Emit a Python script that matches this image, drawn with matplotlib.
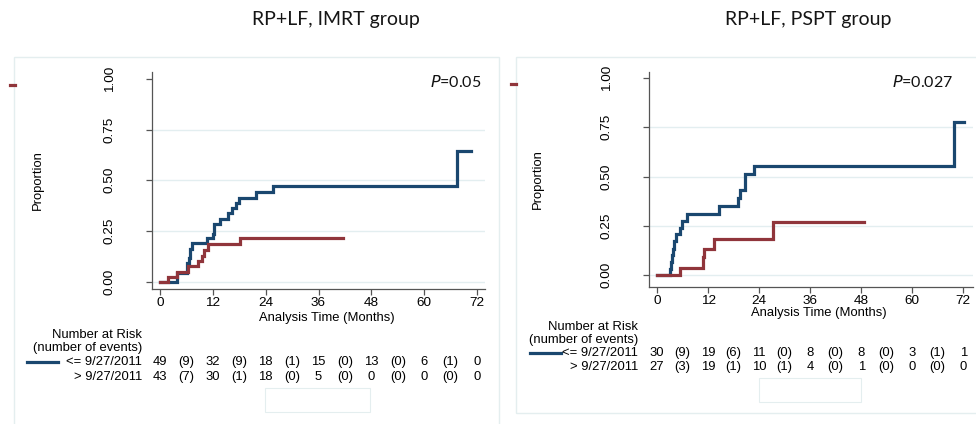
import matplotlib
matplotlib.use("Agg")
import matplotlib.pyplot as plt
from matplotlib.patches import Rectangle
from matplotlib.lines import Line2D
import matplotlib.transforms as mtransforms

W, H = 976, 424

# ---------------- data ----------------
titles = ["RP+LF, IMRT group", "RP+LF, PSPT group"]
pvalues = ["0.05", "0.027"]
group_labels = ["<= 9/27/2011", "> 9/27/2011"]
xticks = [0, 12, 24, 36, 48, 60, 72]
yticks = [0.00, 0.25, 0.50, 0.75, 1.00]

imrt_le_t = [0, 3.8, 6.1, 6.5, 6.8, 7.2, 10.7, 12.0, 12.3, 13.6, 15.5, 16.4, 17.3, 17.9, 21.8, 25.7, 67.4, 70.6]
imrt_le_v = [0, 0.043, 0.09, 0.115, 0.16, 0.188, 0.213, 0.235, 0.283, 0.31, 0.336, 0.362, 0.389, 0.415, 0.441, 0.471, 0.646, 0.646]
imrt_gt_t = [0, 1.9, 3.8, 6.4, 8.7, 9.5, 10.0, 11.0, 18.2, 41.6]
imrt_gt_v = [0, 0.021, 0.048, 0.076, 0.10, 0.127, 0.155, 0.185, 0.213, 0.213]

pspt_le_t = [0, 3.1, 3.3, 3.5, 3.7, 3.9, 4.5, 5.5, 5.9, 7.1, 14.5, 19.0, 19.5, 20.6, 22.7, 69.8, 72.3]
pspt_le_v = [0, 0.033, 0.067, 0.10, 0.133, 0.173, 0.207, 0.24, 0.275, 0.31, 0.351, 0.393, 0.432, 0.512, 0.551, 0.776, 0.776]
pspt_gt_t = [0, 5.5, 10.7, 11.0, 13.3, 27.3, 48.6]
pspt_gt_v = [0, 0.037, 0.09, 0.132, 0.181, 0.271, 0.271]

imrt_le_risk = [49, 32, 18, 15, 13, 6, 0]
imrt_le_events = [9, 9, 1, 0, 0, 1]
imrt_gt_risk = [43, 30, 18, 5, 0, 0, 0]
imrt_gt_events = [7, 1, 0, 0, 0, 0]
pspt_le_risk = [30, 19, 11, 8, 8, 3, 1]
pspt_le_events = [9, 6, 0, 0, 0, 1]
pspt_gt_risk = [27, 19, 10, 4, 1, 0, 0]
pspt_gt_events = [3, 1, 1, 0, 0, 0]

BLUE = "#1a476f"
RED = "#90353b"
GRID = "#e3eef0"
FRAME = "#e4eeef"
AXC = "#555555"
SANS = "Liberation Sans"
TFONT = "Lato"
FS = 9.4

fig = plt.figure(figsize=(W / 100, H / 100), dpi=100)
fig.patch.set_facecolor("white")


def fx(px):
    return px / W


def fy(py):
    return 1 - py / H


# panel frames
fig.add_artist(Rectangle((fx(14), fy(430)), fx(499 - 14), (430 - 57) / H,
                         transform=fig.transFigure, fill=False, ec=FRAME, lw=1.0))
fig.add_artist(Rectangle((fx(516), fy(413)), fx(990 - 516), (413 - 57) / H,
                         transform=fig.transFigure, fill=False, ec=FRAME, lw=1.0))

panels = [
    dict(title=titles[0], tx=336, p=pvalues[0], px=481,
         ax=(152, 72, 485, 289), xlim=(-1.8, 73.8), ylim=(-0.037, 1.035),
         le=(imrt_le_t, imrt_le_v), gt=(imrt_gt_t, imrt_gt_v),
         risk=(imrt_le_risk, imrt_le_events, imrt_gt_risk, imrt_gt_events),
         ylab_x=38, xlab_y=318, rows=(335, 348, 362, 377), lab_x=142,
         leg=(27, 58), dash=(10, 15, 85), box=(265, 388, 370, 412)),
    dict(title=titles[1], tx=808, p=pvalues[1], px=953,
         ax=(649, 72, 973, 287), xlim=(-1.9, 74.3), ylim=(-0.06, 1.03),
         le=(pspt_le_t, pspt_le_v), gt=(pspt_gt_t, pspt_gt_v),
         risk=(pspt_le_risk, pspt_le_events, pspt_gt_risk, pspt_gt_events),
         ylab_x=538, xlab_y=313, rows=(327, 340, 353, 367), lab_x=638,
         leg=(530, 561), dash=(511, 516, 84), box=(759, 378, 861, 402)),
]

for P in panels:
    x0, y0, x1, y1 = P["ax"]
    ax = fig.add_axes([fx(x0), fy(y1), fx(x1 - x0), (y1 - y0) / H])
    ax.set_facecolor("none")
    ax.set_xlim(*P["xlim"])
    ax.set_ylim(*P["ylim"])
    for s in ["top", "right"]:
        ax.spines[s].set_visible(False)
    for s in ["left", "bottom"]:
        ax.spines[s].set_color(AXC)
        ax.spines[s].set_linewidth(0.9)
    for g in yticks[:-1]:
        ax.axhline(g, color=GRID, lw=1.0, zorder=0)
    ax.set_xticks(xticks)
    ax.set_xticklabels([str(t) for t in xticks], fontfamily=SANS, fontsize=FS + 0.3)
    ax.set_yticks(yticks)
    ax.set_yticklabels(["%.2f" % v for v in yticks], fontfamily=SANS, fontsize=FS + 0.3,
                       rotation=90, va="center")
    ax.tick_params(axis="x", length=4, width=0.9, color=AXC, pad=1.5)
    ax.tick_params(axis="y", length=4, width=0.9, color=AXC, pad=22)

    ax.step(P["le"][0], P["le"][1], where="post", color=BLUE, lw=2.3,
            solid_joinstyle="miter", zorder=3)
    ax.step(P["gt"][0], P["gt"][1], where="post", color=RED, lw=2.3,
            solid_joinstyle="miter", zorder=4)

    # titles and labels
    fig.text(fx(P["tx"]), fy(20), P["title"], ha="center", va="center",
             fontfamily=TFONT, fontsize=14, color="#151515")
    fig.text(fx(P["px"]), fy(82), r"$\it{P}$" + "=" + P["p"], ha="right", va="center",
             fontfamily=TFONT, fontsize=11.5, color="#111111")
    fig.text(fx(P["ylab_x"]), fy((y0 + y1) / 2), "Proportion", rotation=90,
             ha="center", va="center", fontfamily=SANS, fontsize=FS)
    xc = (x0 + x1) / 2 + 8
    fig.text(fx(xc), fy(P["xlab_y"]), "Analysis Time (Months)", ha="center",
             va="center", fontfamily=SANS, fontsize=FS)

    # number at risk table
    trans = mtransforms.blended_transform_factory(ax.transData, fig.transFigure)
    r0, r1, r2, r3 = P["rows"]
    fig.text(fx(P["lab_x"]), fy(r0), "Number at Risk", ha="right", va="center",
             fontfamily=SANS, fontsize=FS)
    fig.text(fx(P["lab_x"]), fy(r1), "(number of events)", ha="right", va="center",
             fontfamily=SANS, fontsize=FS)
    fig.text(fx(P["lab_x"]), fy(r2), group_labels[0], ha="right", va="center",
             fontfamily=SANS, fontsize=FS)
    fig.text(fx(P["lab_x"]), fy(r3), group_labels[1], ha="right", va="center",
             fontfamily=SANS, fontsize=FS)
    le_r, le_e, gt_r, gt_e = P["risk"]
    for rowy, rk, ev in [(r2, le_r, le_e), (r3, gt_r, gt_e)]:
        for t, n in zip(xticks, rk):
            ax.text(t, fy(rowy), str(n), transform=trans, ha="center", va="center",
                    fontfamily=SANS, fontsize=FS, clip_on=False)
        for i, e in enumerate(ev):
            tm = (xticks[i] + xticks[i + 1]) / 2
            ax.text(tm, fy(rowy), "(%d)" % e, transform=trans, ha="center",
                    va="center", fontfamily=SANS, fontsize=FS, clip_on=False)
    lx0, lx1 = P["leg"]
    fig.add_artist(Line2D([fx(lx0), fx(lx1)], [fy(r2), fy(r2)], color=BLUE, lw=2.3,
                          transform=fig.transFigure))
    dx0, dx1, dy = P["dash"]
    fig.add_artist(Line2D([fx(dx0), fx(dx1)], [fy(dy), fy(dy)], color=RED, lw=2.3,
                          transform=fig.transFigure))
    bx0, by0, bx1, by1 = P["box"]
    fig.add_artist(Rectangle((fx(bx0), fy(by1)), fx(bx1 - bx0), (by1 - by0) / H,
                             transform=fig.transFigure, fill=False, ec=FRAME, lw=0.8))

fig.savefig("out.png", dpi=100)
